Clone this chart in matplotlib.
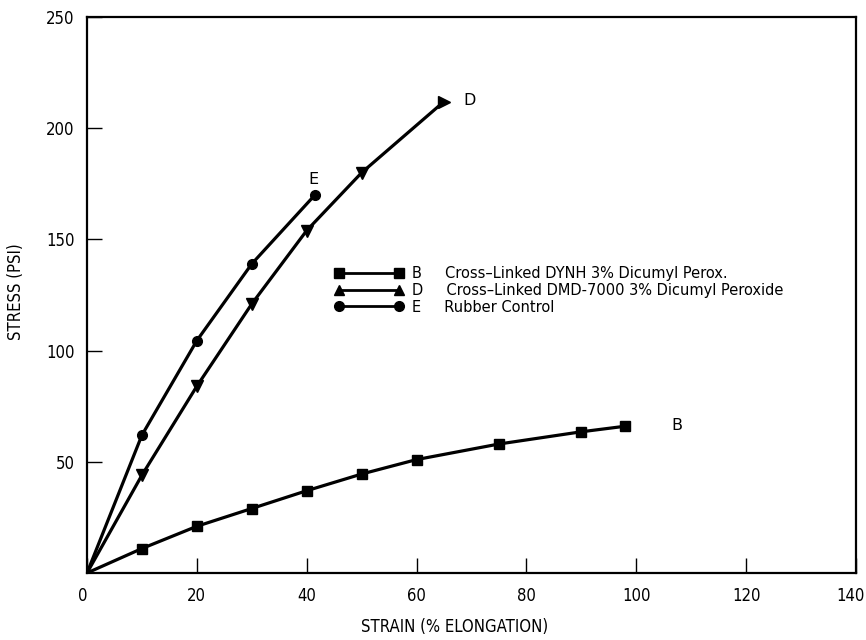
import matplotlib
matplotlib.use("Agg")
import matplotlib.pyplot as plt
from matplotlib.lines import Line2D
from matplotlib import font_manager
import matplotlib.transforms as mtransforms

# Data
strain_B = [0, 10, 20, 30, 40, 50, 60, 75, 90, 98]
stress_B = [0, 11, 21, 29, 37, 44.5, 51, 58, 63.5, 66]

strain_D = [0, 10, 20, 30, 40, 50, 65]
stress_D = [0, 44, 84, 121, 154, 180, 212]

strain_E = [0, 10, 20, 30, 41.5]
stress_E = [0, 62, 104.5, 139, 170]

legend_labels = [
    "B     Cross–Linked DYNH 3% Dicumyl Perox.",
    "D     Cross–Linked DMD-7000 3% Dicumyl Peroxide",
    "E     Rubber Control",
]
x_ticks = [0, 20, 40, 60, 80, 100, 120, 140]
y_ticks = [50, 100, 150, 200, 250]

plt.rcParams['font.family'] = ['DejaVu Sans']

# pick a condensed face for the axis texts if one is installed
cond = None
for f in font_manager.fontManager.ttflist:
    if 'Liberation Sans Narrow' in f.name:
        cond = dict(family=[f.name, 'DejaVu Sans'])
        break
if cond is None:
    for f in font_manager.fontManager.ttflist:
        if f.name == 'DejaVu Sans' and f.stretch != 'normal' and f.stretch != 500:
            cond = dict(family=['DejaVu Sans'], stretch='condensed')
            break
if cond is None:
    cond = dict(family=['DejaVu Sans'])

fig = plt.figure(figsize=(8.66, 6.4), dpi=100)
ax = fig.add_axes([87/866, 1-573/640, (856-87)/866, (573-17)/640])

lw = 2.3
ax.plot(strain_B, stress_B, color='black', lw=lw, marker='s', ms=7, markevery=list(range(1, len(strain_B))))
ax.plot(strain_D[:-1], stress_D[:-1], color='black', lw=lw, marker='v', ms=8, markevery=list(range(1, len(strain_D)-1)))
ax.plot(strain_D[-2:], stress_D[-2:], color='black', lw=lw)
ax.plot(strain_D[-1:], stress_D[-1:], color='black', marker='>', ms=8, ls='none')
ax.plot(strain_E, stress_E, color='black', lw=lw, marker='o', ms=7, markevery=list(range(1, len(strain_E))))

ax.text(41.3, 177, "E", fontsize=11.5, ha='center', va='center')
ax.text(69.6, 212.5, "D", fontsize=11.5, ha='center', va='center')
ax.text(107.3, 66.5, "B", fontsize=11.5, ha='center', va='center')

ax.set_xlim(0, 140)
ax.set_ylim(0, 250)
ax.set_xticks(x_ticks)
ax.set_yticks(y_ticks)
ax.set_xticklabels([str(v) for v in x_ticks], fontsize=12, **cond)
ax.set_yticklabels([str(v) for v in y_ticks], fontsize=12, **cond)
ax.tick_params(direction='in', length=11, width=1.0)
ax.tick_params(axis='x', pad=10)
ax.tick_params(axis='y', pad=9)
for s in ax.spines.values():
    s.set_linewidth(1.6)

# nudge the first and last x labels as in the reference
lbls = ax.get_xticklabels()
lbls[0].set_transform(lbls[0].get_transform() + mtransforms.ScaledTranslation(-4/100, 0, fig.dpi_scale_trans))
lbls[-1].set_transform(lbls[-1].get_transform() + mtransforms.ScaledTranslation(-5/100, 0, fig.dpi_scale_trans))

ax.set_xlabel("STRAIN (% ELONGATION)", fontsize=12, **cond)
ax.set_ylabel("STRESS (PSI)", fontsize=12, **cond)
ax.xaxis.label.set_va('center')
ax.xaxis.set_label_coords((455-87)/769, -(627-573)/556)
ax.yaxis.label.set_va('center')
ax.yaxis.label.set_ha('center')
ax.yaxis.set_label_coords((16-87)/769, 1-(292-17)/556)

handles = [
    Line2D([0], [0], color='black', lw=2, marker='s', ms=7),
    Line2D([0], [0], color='black', lw=2, marker='^', ms=7),
    Line2D([0], [0], color='black', lw=2, marker='o', ms=7),
]
ax.legend(handles, legend_labels, loc='upper left',
          bbox_to_anchor=((335-87)/769, 1-(266-17)/556),
          frameon=False, numpoints=2, handlelength=4.7, handletextpad=0.55,
          labelspacing=0.12, fontsize=10.5, borderaxespad=0, borderpad=0)

fig.savefig("out.png", dpi=100)
